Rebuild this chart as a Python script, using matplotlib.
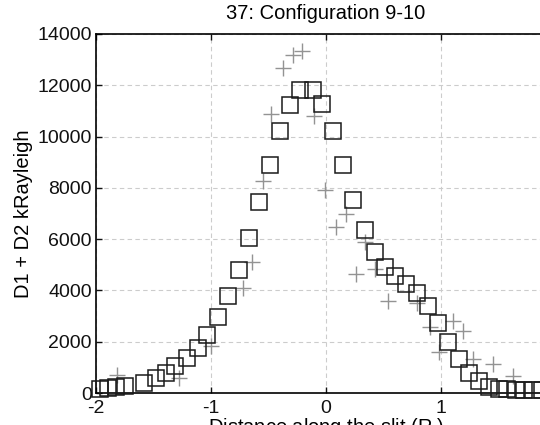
import matplotlib
matplotlib.use("Agg")
import matplotlib.pyplot as plt

plt.rcParams['font.family'] = ['Liberation Sans', 'DejaVu Sans']

# D1 + D2 brightness along the slit, model (squares) and observed (crosses)
sq_x = [-1.963, -1.897, -1.825, -1.748, -1.582, -1.481, -1.395, -1.309, -1.209,
        -1.115, -1.037, -0.943, -0.851, -0.759, -0.670, -0.579, -0.487, -0.398,
        -0.312, -0.229, -0.117, -0.035, 0.058, 0.146, 0.239, 0.335, 0.423, 0.510,
        0.598, 0.694, 0.787, 0.883, 0.977, 1.064, 1.157, 1.245, 1.332, 1.414,
        1.500, 1.575, 1.650, 1.725, 1.800, 1.875, 1.950]
sq_y = [154, 180, 219, 257, 386, 566, 797, 1055, 1376, 1762, 2276, 2958, 3794,
        4810, 6044, 7459, 8899, 10224, 11240, 11831, 11831, 11278, 10224, 8899,
        7523, 6353, 5491, 4913, 4565, 4244, 3884, 3395, 2726, 1993, 1337, 797,
        476, 219, 150, 140, 130, 120, 120, 110, 110]

pl_x = [-1.82, -1.28, -1.00, -0.725, -0.64, -0.55, -0.478, -0.376, -0.29, -0.205,
        -0.105, -0.01, 0.085, 0.172, 0.335, 0.26, 0.43, 0.54, 0.79, 0.90, 0.985,
        1.10, 1.19, 1.28, 1.45, 1.63]
pl_y = [700, 600, 1830, 4110, 5100, 8260, 10890, 12680, 13200, 13350, 10820,
        7900, 6460, 6990, 5900, 4650, 4820, 3600, 3500, 2590, 1600, 2790, 2400,
        1330, 1140, 650]

x_ticks = [-2, -1, 0, 1, 2]
y_ticks = [0, 2000, 4000, 6000, 8000, 10000, 12000, 14000]

fig = plt.figure(figsize=(5.4, 4.25), dpi=100)
ax = fig.add_axes([96 / 540, 32 / 425, 460 / 540, 359 / 425])

ax.plot(pl_x, pl_y, linestyle='none', marker='+', markersize=12,
        markeredgewidth=1.0, color='#939393', clip_on=False, zorder=3)
ax.plot(sq_x, sq_y, linestyle='none', marker='s', markersize=11,
        markerfacecolor='none', markeredgewidth=1.1, markeredgecolor='#1a1a1a',
        clip_on=False, zorder=4)

ax.set_xlim(-2, 2)
ax.set_ylim(0, 14000)
ax.set_xticks(x_ticks)
ax.set_yticks(y_ticks)
ax.set_xticklabels([str(t) for t in x_ticks])
ax.set_yticklabels([str(t) for t in y_ticks])

ax.grid(True, color='#cccccc', linestyle=(0, (4, 3)), linewidth=0.8)
ax.set_axisbelow(True)
ax.tick_params(direction='in', length=4, width=1, top=True, right=True,
               labelsize=14, pad=3, colors='#111111')
ax.tick_params(axis='x', pad=5)
for s in ax.spines.values():
    s.set_linewidth(1.2)

ax.set_title('37: Configuration 9-10', fontsize=14.5, pad=11)
ax.set_ylabel('D1 + D2 kRayleigh', fontsize=14.5, labelpad=3)
ax.set_xlabel('Distance along the slit (R$_J$)', fontsize=14.5, labelpad=0)

fig.savefig('out.png', dpi=100)
